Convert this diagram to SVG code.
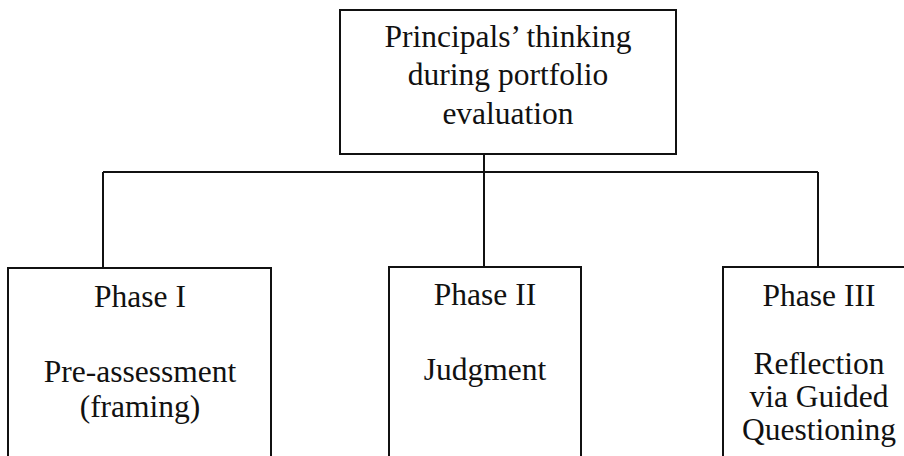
<svg xmlns="http://www.w3.org/2000/svg" width="904" height="456" viewBox="0 0 904 456">
  <style>
    .box { fill: #ffffff; stroke: #111111; stroke-width: 2; }
    .wire { fill: none; stroke: #111111; stroke-width: 2; }
    .label { font-family: "Liberation Serif", "Times New Roman", serif; font-size: 31.5px; fill: #111111; text-anchor: middle; }
  </style>
  <rect width="904" height="456" fill="#ffffff"/>

  <!-- connectors -->
  <g id="connectors">
    <line class="wire" x1="484" y1="154" x2="484" y2="267"/>
    <line class="wire" x1="103" y1="172" x2="818" y2="172"/>
    <line class="wire" x1="103" y1="172" x2="103" y2="268"/>
    <line class="wire" x1="818" y1="172" x2="818" y2="267"/>
  </g>

  <!-- root node -->
  <g id="root">
    <rect class="box" x="340" y="10" width="336" height="144"/>
    <text class="label" x="508" y="47">Principals’ thinking</text>
    <text class="label" x="508" y="85">during portfolio</text>
    <text class="label" x="508" y="124">evaluation</text>
  </g>

  <!-- phase nodes -->
  <g id="phase1">
    <rect class="box" x="8" y="268" width="263" height="210"/>
    <text class="label" x="140" y="307">Phase I</text>
    <text class="label" x="140" y="382">Pre-assessment</text>
    <text class="label" x="140" y="417">(framing)</text>
  </g>

  <g id="phase2">
    <rect class="box" x="389" y="267" width="192" height="210"/>
    <text class="label" x="485" y="305">Phase II</text>
    <text class="label" x="485" y="380">Judgment</text>
  </g>

  <g id="phase3">
    <rect class="box" x="723" y="267" width="192" height="210"/>
    <text class="label" x="819" y="306">Phase III</text>
    <text class="label" x="819" y="374">Reflection</text>
    <text class="label" x="819" y="407">via Guided</text>
    <text class="label" x="819" y="440">Questioning</text>
  </g>
</svg>
